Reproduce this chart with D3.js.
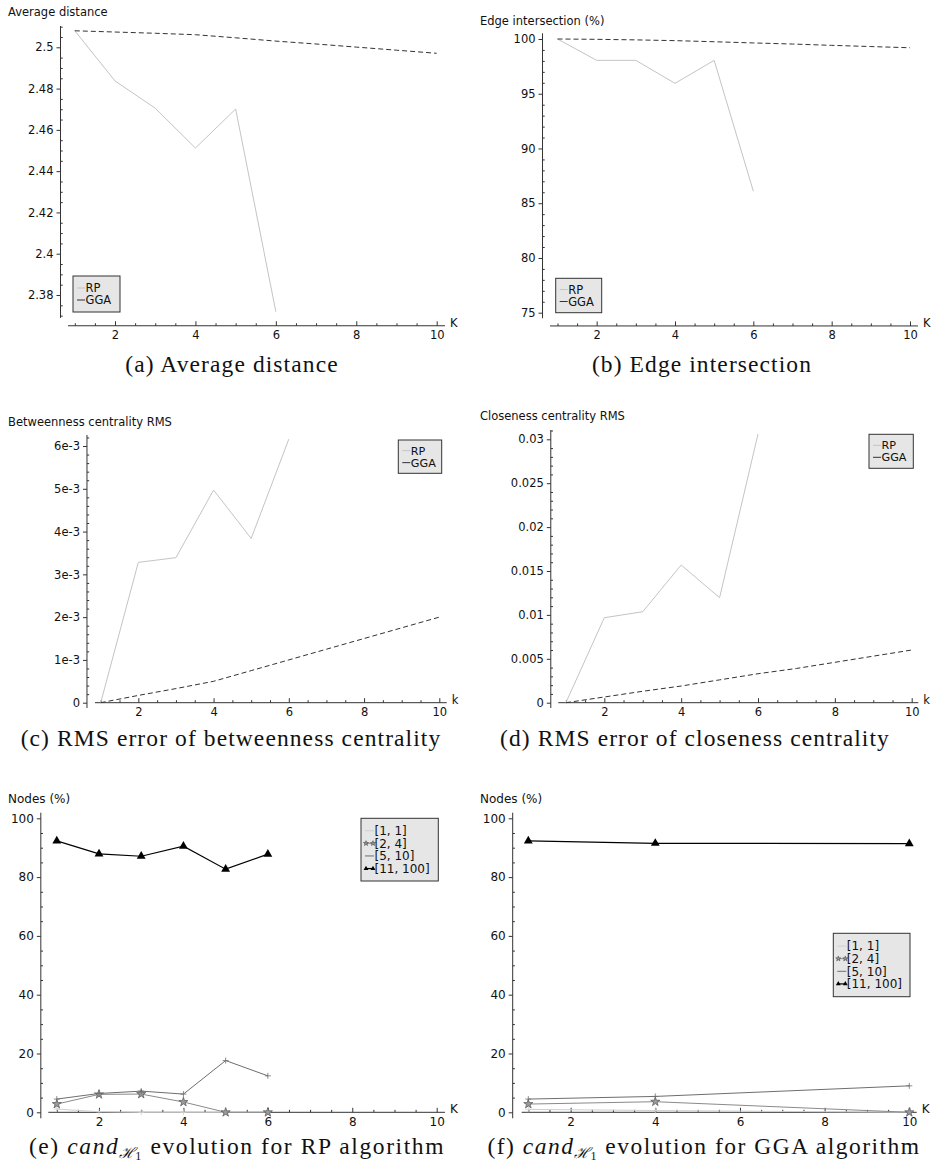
<!DOCTYPE html>
<html><head><meta charset="utf-8">
<script src="https://cdn.jsdelivr.net/npm/d3@7"></script>
<style>
body{margin:0;background:#fff}
svg{display:block}
text{fill:#111}
</style>
</head><body>
<svg id="c" width="937" height="1173"></svg>
<script>
// ---------------- DATA ----------------
const kRP = [1, 2, 3, 4, 5, 6];
const kGGA = [1, 2, 3, 4, 5, 6, 7, 8, 9, 10];
const kGGAnodes = [1, 4, 10];
const seriesNames = ["RP", "GGA"];

const avgDistRP = [2.508, 2.4837, 2.4705, 2.4512, 2.4701, 2.3719];
const avgDistGGA = [2.508, 2.5074, 2.5068, 2.5061, 2.5046, 2.503, 2.5016, 2.5001, 2.4986, 2.4971];

const edgeRP = [100, 98.05, 98.05, 95.95, 98.05, 86.1];
const edgeGGA = [100, 99.97, 99.92, 99.85, 99.75, 99.64, 99.54, 99.42, 99.31, 99.2];

const betwRP = [0, 3.28e-3, 3.39e-3, 4.97e-3, 3.84e-3, 6.16e-3];
const betwGGA = [0, 0.17e-3, 0.33e-3, 0.5e-3, 0.75e-3, 1.0e-3, 1.25e-3, 1.5e-3, 1.75e-3, 2.0e-3];

const closRP = [0, 0.00968, 0.01036, 0.01568, 0.01196, 0.0306];
const closGGA = [0, 0.00065, 0.0013, 0.0019, 0.0026, 0.0033, 0.0039, 0.0046, 0.0053, 0.006];

const nodeBins = ["[1, 1]", "[2, 4]", "[5, 10]", "[11, 100]"];
const nodesRP_1_1 = [1.1, 0.2, 0, 0, 0, 0];
const nodesRP_2_4 = [2.8, 6.1, 6.2, 3.5, 0, 0];
const nodesRP_5_10 = [4.5, 6.4, 7.2, 6.2, 17.6, 12.4];
const nodesRP_11_100 = [92.3, 87.9, 87.1, 90.5, 82.7, 87.8];
const nodesGGA_1_1 = [1.0, 0.6, 0];
const nodesGGA_2_4 = [2.8, 3.6, 0];
const nodesGGA_5_10 = [4.5, 5.4, 9.0];
const nodesGGA_11_100 = [92.3, 91.5, 91.4];

const xTicks = [2, 4, 6, 8, 10];
const avgDistTicks = [2.38, 2.4, 2.42, 2.44, 2.46, 2.48, 2.5];
const avgDistTickLabels = ["2.38", "2.4", "2.42", "2.44", "2.46", "2.48", "2.5"];
const edgeTicks = [75, 80, 85, 90, 95, 100];
const edgeTickLabels = ["75", "80", "85", "90", "95", "100"];
const betwTicks = [0, 1e-3, 2e-3, 3e-3, 4e-3, 5e-3, 6e-3];
const betwTickLabels = ["0", "1e-3", "2e-3", "3e-3", "4e-3", "5e-3", "6e-3"];
const closTicks = [0, 0.005, 0.01, 0.015, 0.02, 0.025, 0.03];
const closTickLabels = ["0", "0.005", "0.01", "0.015", "0.02", "0.025", "0.03"];
const nodesTicks = [0, 20, 40, 60, 80, 100];
const nodesTickLabels = ["0", "20", "40", "60", "80", "100"];

// ---------------- STYLES ----------------
const SANS = '"DejaVu Sans", sans-serif';
const SERIF = '"Liberation Serif", "DejaVu Serif", serif';
const rpStyle = {color: "#c4c4c4", width: 1, dash: null, marker: null};
const ggaStyle = {color: "#333", width: 1, dash: "5,3", marker: null};
const binStyles = [
  {color: "#cfcfcf", width: 1, dash: null, marker: "plus"},
  {color: "#8a8a8a", width: 1, dash: null, marker: "star"},
  {color: "#6e6e6e", width: 1, dash: null, marker: "plus"},
  {color: "#000", width: 1.2, dash: null, marker: "tri"}
];

// ---------------- LAYOUT ----------------
const panels = [
  {title: "Average distance", tx: 8, ty: 16, xl: "K", fs: 11.5, yOff: 7.5,
   xr: [74.8, 436.7], yv: [2.38, 2.5], yr: [295, 47.3],
   xExt: [0.831, 10.207], yExt: [2.3689, 2.5103], xAxisAt: 2.3651,
   yTicks: avgDistTicks, yLabels: avgDistTickLabels, yMinor: 0.005,
   series: [{x: kRP, y: avgDistRP, s: rpStyle}, {x: kGGA, y: avgDistGGA, s: ggaStyle}],
   legend: {x: 73, y: 276, w: 47, h: 36, names: seriesNames, styles: [rpStyle, ggaStyle], lh: 12, fs: 11.5},
   cap: {x: 232, y: 372, ls: 1.1, parts: [["(a) Average distance"]]}},
  {title: "Edge intersection (%)", tx: 480, ty: 25, xl: "K", fs: 11.5, yOff: 7.5,
   xr: [557.5, 910], yv: [75, 100], yr: [312.7, 39],
   xExt: [0.809, 10.203], yExt: [74.49, 100.52], xAxisAt: 73.79,
   yTicks: edgeTicks, yLabels: edgeTickLabels, yMinor: 1,
   series: [{x: kRP, y: edgeRP, s: rpStyle}, {x: kGGA, y: edgeGGA, s: ggaStyle}],
   legend: {x: 555.7, y: 278.3, w: 46, h: 34.4, names: seriesNames, styles: [rpStyle, ggaStyle], lh: 12, fs: 11.5},
   cap: {x: 702, y: 372, ls: 1.1, parts: [["(b) Edge intersection"]]}},
  {title: "Betweenness centrality RMS", tx: 8, ty: 426, xl: "k", fs: 11.5, yOff: 8,
   xr: [100.7, 439.3], yv: [0, 6e-3], yr: [702.7, 446],
   xExt: [0.848, 10.197], yExt: [-0.124e-3, 6.258e-3], xAxisAt: 0,
   yTicks: betwTicks, yLabels: betwTickLabels, yMinor: 0.2e-3,
   series: [{x: kRP, y: betwRP, s: rpStyle}, {x: kGGA, y: betwGGA, s: ggaStyle}],
   legend: {x: 398.3, y: 440, w: 43.4, h: 33.3, names: seriesNames, styles: [rpStyle, ggaStyle], lh: 12, fs: 11.2},
   cap: {x: 231, y: 746, ls: 1.1, parts: [["(c) RMS error of betweenness centrality"]]}},
  {title: "Closeness centrality RMS", tx: 480, ty: 420, xl: "k", fs: 11.5, yOff: 7.5,
   xr: [565.9, 911.7], yv: [0, 0.03], yr: [702.7, 439.3],
   xExt: [0.802, 10.172], yExt: [-0.0006, 0.03106], xAxisAt: 0,
   yTicks: closTicks, yLabels: closTickLabels, yMinor: 0.001,
   series: [{x: kRP, y: closRP, s: rpStyle}, {x: kGGA, y: closGGA, s: ggaStyle}],
   legend: {x: 869, y: 434.3, w: 44.3, h: 34, names: seriesNames, styles: [rpStyle, ggaStyle], lh: 12, fs: 11.2},
   cap: {x: 695, y: 746, ls: 1.1, parts: [["(d) RMS error of closeness centrality"]]}},
  {title: "Nodes (%)", tx: 8, ty: 803, xl: "K", fs: 12, yOff: 7.5,
   xr: [56.8, 436.7], yv: [0, 100], yr: [1112.3, 818.3],
   xExt: [0.799, 10.197], yExt: [-2.04, 101.9], xAxisAt: 0,
   yTicks: nodesTicks, yLabels: nodesTickLabels, yMinor: 5,
   series: [
     {x: kRP, y: nodesRP_1_1, s: binStyles[0]}, {x: kRP, y: nodesRP_2_4, s: binStyles[1]},
     {x: kRP, y: nodesRP_5_10, s: binStyles[2]}, {x: kRP, y: nodesRP_11_100, s: binStyles[3]}],
   legend: {x: 361, y: 818.3, w: 77.3, h: 62.7, names: nodeBins, styles: binStyles, lh: 12.6, fs: 12},
   cap: {x: 237, y: 1154, ls: 1.6, parts: [["(e) "], ["cand", "it"], ["ℋ", "sub"], ["1", "subsub"], [" evolution for RP algorithm"]]}},
  {title: "Nodes (%)", tx: 480, ty: 803, xl: "K", fs: 12, yOff: 9,
   xr: [528.3, 909.3], yv: [0, 100], yr: [1112.3, 818.3],
   xExt: [0.844, 10.175], yExt: [-2.04, 101.9], xAxisAt: 0,
   yTicks: nodesTicks, yLabels: nodesTickLabels, yMinor: 5,
   series: [
     {x: kGGAnodes, y: nodesGGA_1_1, s: binStyles[0]}, {x: kGGAnodes, y: nodesGGA_2_4, s: binStyles[1]},
     {x: kGGAnodes, y: nodesGGA_5_10, s: binStyles[2]}, {x: kGGAnodes, y: nodesGGA_11_100, s: binStyles[3]}],
   legend: {x: 833.3, y: 933.3, w: 76.7, h: 63.4, names: nodeBins, styles: binStyles, lh: 12.6, fs: 12},
   cap: {x: 704, y: 1154, ls: 1.5, parts: [["(f) "], ["cand", "it"], ["ℋ", "sub"], ["1", "subsub"], [" evolution for GGA algorithm"]]}}
];

const svg = d3.select("#c");
const axisColor = "#333";

function marker(g, type, color, cx, cy, scale) {
  scale = scale || 1;
  if (type === "tri") {
    g.append("path").attr("d", d3.symbol(d3.symbolTriangle, 34 * scale)())
      .attr("transform", `translate(${cx},${cy})`).attr("fill", color);
  } else if (type === "star") {
    g.append("path").attr("d", d3.symbol(d3.symbolStar, 26 * scale)())
      .attr("transform", `translate(${cx},${cy})`).attr("fill", "#9a9a9a").attr("stroke", "#555").attr("stroke-width", 0.7);
  } else if (type === "plus") {
    const r = 3 * scale;
    g.append("path").attr("d", `M${cx - r},${cy}H${cx + r}M${cx},${cy - r}V${cy + r}`)
      .attr("stroke", color).attr("stroke-width", 0.8).attr("fill", "none");
  }
}

panels.forEach(p => {
  const g = svg.append("g");
  const x = d3.scaleLinear().domain([1, 10]).range(p.xr);
  const y = d3.scaleLinear().domain(p.yv).range(p.yr);
  const yx = x(p.xExt[0]) - p.yOff;

  // X axis
  const xMinor = d3.range(1, 10.001, 0.5).filter(v => xTicks.indexOf(v) < 0);
  const xa = g.append("g").attr("transform", `translate(0,${y(p.xAxisAt)})`);
  xa.call(d3.axisBottom(x).tickValues(xTicks).tickSizeInner(-4.5).tickSizeOuter(0).tickPadding(5)
      .tickFormat(d3.format("d")));
  const xm = g.append("g").attr("transform", `translate(0,${y(p.xAxisAt)})`);
  xm.call(d3.axisBottom(x).tickValues(xMinor).tickSizeInner(-2.5).tickSizeOuter(0).tickFormat(""));
  [xa, xm].forEach(a => { a.select(".domain").remove(); a.selectAll("line").attr("stroke", axisColor); });
  xa.selectAll("text").attr("font-size", p.fs).style("font-family", SANS).attr("fill", "#111");
  g.append("line").attr("x1", x(p.xExt[0])).attr("x2", x(p.xExt[1]))
    .attr("y1", y(p.xAxisAt)).attr("y2", y(p.xAxisAt)).attr("stroke", axisColor).attr("stroke-width", 1);
  g.append("text").attr("x", x(p.xExt[1]) + 5).attr("y", y(p.xAxisAt) + 1)
    .attr("font-size", p.fs).style("font-family", SANS).text(p.xl);

  // Y axis
  const lo = p.yExt[0], hi = p.yExt[1];
  const yMinorVals = d3.range(Math.ceil(lo / p.yMinor) * p.yMinor, hi, p.yMinor)
    .filter(v => !p.yTicks.some(t => Math.abs(t - v) < p.yMinor * 0.1));
  const ya = g.append("g").attr("transform", `translate(${yx},0)`);
  ya.call(d3.axisLeft(y).tickValues(p.yTicks).tickSizeInner(4).tickSizeOuter(0).tickPadding(3)
      .tickFormat((d, i) => p.yLabels[i]));
  const ym = g.append("g").attr("transform", `translate(${yx},0)`);
  ym.call(d3.axisRight(y).tickValues(yMinorVals).tickSizeInner(2.2).tickSizeOuter(0).tickFormat(""));
  [ya, ym].forEach(a => { a.select(".domain").remove(); a.selectAll("line").attr("stroke", axisColor); });
  ya.selectAll("text").attr("font-size", p.fs).style("font-family", SANS).attr("fill", "#111");
  g.append("line").attr("x1", yx).attr("x2", yx).attr("y1", y(lo)).attr("y2", y(hi))
    .attr("stroke", axisColor).attr("stroke-width", 1);

  // Title
  g.append("text").attr("x", p.tx).attr("y", p.ty).attr("font-size", p.fs)
    .style("font-family", SANS).text(p.title);

  // Series
  const line = d3.line().x(d => x(d[0])).y(d => y(d[1]));
  p.series.forEach(s => {
    const pts = s.x.map((k, i) => [k, s.y[i]]);
    g.append("path").attr("d", line(pts)).attr("fill", "none")
      .attr("stroke", s.s.color).attr("stroke-width", s.s.width)
      .attr("stroke-dasharray", s.s.dash);
    if (s.s.marker) pts.forEach(d => marker(g, s.s.marker, s.s.color, x(d[0]), y(d[1])));
  });

  // Legend
  const L = p.legend;
  const lg = g.append("g");
  lg.append("rect").attr("x", L.x).attr("y", L.y).attr("width", L.w).attr("height", L.h)
    .attr("fill", "#e6e6e6").attr("stroke", "#333").attr("stroke-width", 1);
  const n = L.names.length;
  const startY = L.y + L.h / 2 - (n - 1) * L.lh / 2;
  L.names.forEach((name, i) => {
    const cy = startY + i * L.lh;
    const st = L.styles[i];
    const x0 = L.x + 4, x1 = L.x + (n > 2 ? 13 : 12);
    lg.append("line").attr("x1", x0).attr("x2", x1).attr("y1", cy).attr("y2", cy)
      .attr("stroke", st.color).attr("stroke-width", st.width);
    if (st.marker === "tri" || st.marker === "star") {
      [x0 + 1, x1 - 1].forEach(mx => marker(lg, st.marker, st.marker === "tri" ? st.color : "#444", mx, cy, 0.3));
    }
    lg.append("text").attr("x", x1 + 0.5).attr("y", cy + L.fs * 0.36).attr("font-size", L.fs)
      .style("font-family", SANS).text(name);
  });

  // Caption
  const cap = g.append("text").attr("x", p.cap.x).attr("y", p.cap.y)
    .attr("text-anchor", "middle").attr("font-size", 23.5).attr("letter-spacing", p.cap.ls + "px")
    .style("font-family", SERIF).attr("fill", "#111");
  p.cap.parts.forEach(part => {
    const t = cap.append("tspan").text(part[0]);
    if (part[1] === "it") t.attr("font-style", "italic");
    if (part[1] === "sub") t.attr("font-size", 15).attr("dy", 4).style("font-family", '"DejaVu Serif", serif')
      .attr("font-style", "italic").attr("letter-spacing", "0px");
    if (part[1] === "subsub") t.attr("font-size", 12).attr("dy", 2);
    if (part[1] === undefined && part[0].startsWith(" ") && p.cap.parts.length > 1) t.attr("dy", -6);
  });
});
</script>
</body></html>
